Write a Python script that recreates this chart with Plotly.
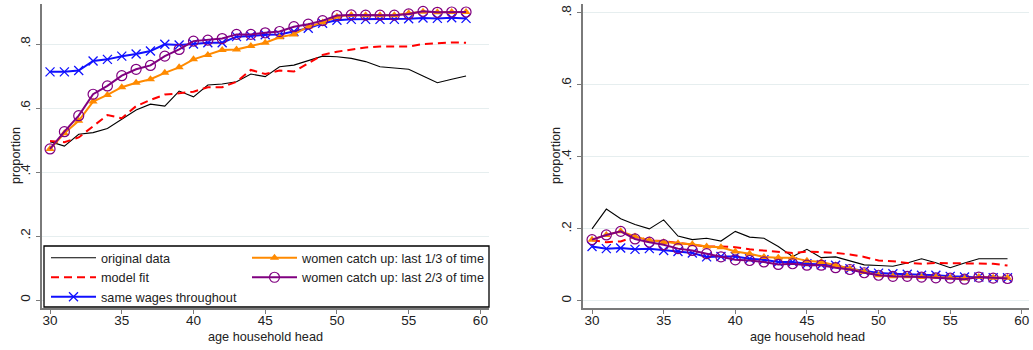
import plotly.graph_objects as go

W, H = 1033, 350

ages = list(range(30, 60))

# Left panel
l_original = [0.495, 0.481, 0.518, 0.523, 0.536, 0.565, 0.594, 0.612, 0.606, 0.653,
              0.635, 0.672, 0.675, 0.682, 0.706, 0.698, 0.729, 0.734, 0.748, 0.762,
              0.760, 0.755, 0.745, 0.729, 0.725, 0.721, 0.700, 0.679, 0.690, 0.700]
l_model = [0.497, 0.493, 0.508, 0.544, 0.578, 0.568, 0.606, 0.625, 0.642, 0.646,
           0.651, 0.665, 0.665, 0.682, 0.719, 0.706, 0.717, 0.714, 0.740, 0.766,
           0.776, 0.783, 0.789, 0.792, 0.792, 0.792, 0.800, 0.802, 0.805, 0.804]
l_same = [0.713, 0.713, 0.717, 0.747, 0.752, 0.762, 0.769, 0.778, 0.799, 0.797,
          0.800, 0.804, 0.804, 0.823, 0.825, 0.829, 0.830, 0.839, 0.849, 0.865,
          0.874, 0.877, 0.877, 0.877, 0.877, 0.879, 0.881, 0.880, 0.882, 0.880]
l_third = [0.472, 0.521, 0.560, 0.620, 0.641, 0.665, 0.679, 0.690, 0.710, 0.727,
           0.752, 0.766, 0.781, 0.783, 0.794, 0.804, 0.821, 0.830, 0.854, 0.867,
           0.885, 0.891, 0.890, 0.890, 0.890, 0.896, 0.901, 0.899, 0.900, 0.900]
l_twothird = [0.472, 0.526, 0.576, 0.643, 0.669, 0.701, 0.721, 0.733, 0.762, 0.783,
              0.809, 0.812, 0.817, 0.830, 0.830, 0.835, 0.839, 0.854, 0.862, 0.873,
              0.889, 0.891, 0.890, 0.890, 0.890, 0.894, 0.902, 0.899, 0.900, 0.900]

# Right panel
r_original = [0.200, 0.255, 0.228, 0.212, 0.200, 0.225, 0.180, 0.170, 0.174, 0.166,
              0.193, 0.177, 0.174, 0.151, 0.123, 0.143, 0.120, 0.122, 0.111, 0.100,
              0.098, 0.096, 0.105, 0.117, 0.106, 0.092, 0.105, 0.117, 0.117, 0.117]
r_model = [0.168, 0.163, 0.165, 0.179, 0.168, 0.166, 0.161, 0.157, 0.151, 0.151,
           0.149, 0.143, 0.140, 0.135, 0.133, 0.137, 0.136, 0.133, 0.129, 0.122,
           0.112, 0.110, 0.105, 0.103, 0.105, 0.105, 0.103, 0.105, 0.103, 0.098]
r_same = [0.151, 0.145, 0.147, 0.143, 0.145, 0.140, 0.137, 0.133, 0.122, 0.123,
          0.123, 0.117, 0.114, 0.108, 0.108, 0.103, 0.100, 0.099, 0.089, 0.083,
          0.077, 0.075, 0.074, 0.071, 0.071, 0.068, 0.066, 0.066, 0.064, 0.064]
r_third = [0.170, 0.183, 0.193, 0.179, 0.168, 0.163, 0.160, 0.157, 0.151, 0.149,
           0.137, 0.131, 0.122, 0.120, 0.120, 0.111, 0.108, 0.099, 0.089, 0.080,
           0.071, 0.068, 0.068, 0.066, 0.066, 0.064, 0.062, 0.066, 0.064, 0.064]
r_twothird = [0.170, 0.183, 0.193, 0.172, 0.163, 0.156, 0.145, 0.140, 0.131, 0.122,
              0.114, 0.112, 0.108, 0.101, 0.103, 0.099, 0.099, 0.092, 0.087, 0.078,
              0.071, 0.068, 0.068, 0.066, 0.064, 0.063, 0.060, 0.066, 0.063, 0.062]

names = ["original data", "model fit", "same wages throughout",
         "women catch up: last 1/3 of time", "women catch up: last 2/3 of time"]
xtick_vals = [30, 35, 40, 45, 50, 55, 60]
ytick_vals = [0, 0.2, 0.4, 0.6, 0.8]
ytick_text = ["0", ".2", ".4", ".6", ".8"]
x_title = "age household head"
y_title = "proportion"

FONT = "Liberation Sans, Arial, sans-serif"
GRID = "#e6eeef"
AXC = "#7a7a7a"
TXT = "#222222"


def px_x(p):
    return p / W


def px_y(p):
    return (H - p) / H


fig = go.Figure()


def add_panel(xa, ya, data, show):
    orig, model, same, third, twothird = data
    common = dict(x=ages, xaxis=xa, yaxis=ya, showlegend=show)
    fig.add_trace(go.Scatter(y=orig, name=names[0], mode="lines", legend="legend",
                             line=dict(color="black", width=1.1), **common))
    fig.add_trace(go.Scatter(y=model, name=names[1], mode="lines", legend="legend",
                             line=dict(color="#ff0000", width=2, dash="8px,5px"),
                             **common))
    fig.add_trace(go.Scatter(y=same, name=names[2], mode="lines+markers", legend="legend",
                             line=dict(color="#1010ff", width=2),
                             marker=dict(symbol="x-thin-open", size=9,
                                         line=dict(color="#1010ff", width=1.3)),
                             **common))
    fig.add_trace(go.Scatter(y=third, name=names[3], mode="lines+markers", legend="legend2",
                             line=dict(color="#ff8a00", width=2),
                             marker=dict(symbol="triangle-up", size=8, color="#ff8a00"),
                             **common))
    fig.add_trace(go.Scatter(y=twothird, name=names[4], mode="lines+markers", legend="legend2",
                             line=dict(color="#800080", width=2),
                             marker=dict(symbol="circle-open", size=10,
                                         line=dict(color="#900090", width=1.2)),
                             **common))


add_panel("x", "y", (l_original, l_model, l_same, l_third, l_twothird), True)
add_panel("x2", "y2", (r_original, r_model, r_same, r_third, r_twothird), False)

ydom = [px_y(308), px_y(4)]

xcommon = dict(tickvals=xtick_vals, ticks="outside", ticklen=4, tickcolor=AXC,
               tickwidth=1.2, showline=True, linecolor=AXC, linewidth=2,
               showgrid=False, zeroline=False, ticklabelstandoff=-5,
               tickfont=dict(family=FONT, size=13.5, color=TXT))
ycommon = dict(tickvals=ytick_vals, ticktext=ytick_text, ticks="outside", ticklen=4,
               tickcolor=AXC, tickwidth=1.2, showline=True, linecolor=AXC, linewidth=2,
               showgrid=True, gridcolor=GRID, gridwidth=1.2, zeroline=False,
               tickangle=-90, domain=ydom, ticklabelstandoff=1,
               tickfont=dict(family=FONT, size=13.5, color=TXT))

leg_common = dict(orientation="v", xanchor="left", yanchor="top", itemwidth=45,
                  bgcolor="rgba(0,0,0,0)", borderwidth=0,
                  font=dict(family=FONT, size=12.7, color=TXT))

fig.update_layout(
    width=W, height=H,
    margin=dict(l=0, r=0, t=0, b=0),
    paper_bgcolor="white", plot_bgcolor="white",
    xaxis=dict(domain=[px_x(42), px_x(489)], range=[29.44, 60.6], anchor="y", **xcommon),
    yaxis=dict(range=[-0.025, 0.925], anchor="x", **ycommon),
    xaxis2=dict(domain=[px_x(583), px_x(1029)], range=[29.37, 60.5], anchor="y2", **xcommon),
    yaxis2=dict(range=[-0.02, 0.825], anchor="x2", **ycommon),
    legend=dict(x=px_x(46), y=px_y(243), **leg_common),
    legend2=dict(x=px_x(247), y=px_y(243), **leg_common),
    shapes=[dict(type="rect", xref="paper", yref="paper",
                 x0=px_x(44), x1=px_x(489), y0=px_y(307), y1=px_y(246),
                 line=dict(color="black", width=1.3), fillcolor="white", layer="above")],
    annotations=[
        dict(text=y_title, textangle=-90, xref="paper", yref="paper",
             x=px_x(16), y=px_y(156), showarrow=False, xanchor="center", yanchor="middle",
             font=dict(family=FONT, size=12.7, color=TXT)),
        dict(text=y_title, textangle=-90, xref="paper", yref="paper",
             x=px_x(556), y=px_y(156), showarrow=False, xanchor="center", yanchor="middle",
             font=dict(family=FONT, size=12.7, color=TXT)),
        dict(text=x_title, xref="paper", yref="paper",
             x=px_x(265), y=px_y(337), showarrow=False, xanchor="center", yanchor="middle",
             font=dict(family=FONT, size=12.7, color=TXT)),
        dict(text=x_title, xref="paper", yref="paper",
             x=px_x(807), y=px_y(337), showarrow=False, xanchor="center", yanchor="middle",
             font=dict(family=FONT, size=12.7, color=TXT)),
    ],
)

fig.write_html("out.html")
